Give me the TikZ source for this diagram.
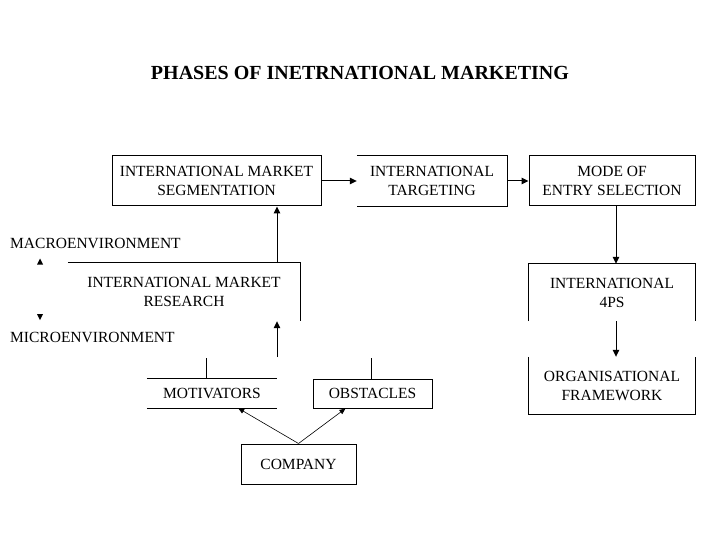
\documentclass[tikz,border=0pt]{standalone}
\usepackage{fontspec}
\setmainfont{Liberation Serif}
\usetikzlibrary{arrows.meta,calc}
\tikzset{
  box/.style={rectangle, inner sep=0pt, align=center, font=\fontsize{15.5}{19}\selectfont},
  framed/.style={box, draw, line width=1pt},
  lbl/.style={inner sep=0pt, anchor=west, font=\fontsize{15.5}{19}\selectfont},
  conn/.style={line width=1pt, -{Triangle[length=7pt,width=6.5pt]}},
  thin conn/.style={line width=0.6pt, -{Triangle[length=6pt,width=5pt]}},
  edge/.style={line width=1pt},
}
\begin{document}
\begin{tikzpicture}[x=1pt,y=-1pt]
\useasboundingbox (0,0) rectangle (720,540);
\fill[white] (0,0) rectangle (720,540);

\node[inner sep=0pt, font=\fontsize{20}{24}\selectfont\bfseries] (title) at (360,73) {PHASES OF INETRNATIONAL MARKETING};

% top row
\node[framed, minimum width=209pt, minimum height=50pt] (b1) at (216.5,181) {INTERNATIONAL MARKET\\SEGMENTATION};
\node[box, minimum width=150pt, minimum height=50pt] (b2) at (432,181) {INTERNATIONAL\\TARGETING};
\draw[edge] (b2.north west) -- (b2.north east) -- (b2.south east) -- (b2.south west);
\node[framed, minimum width=166pt, minimum height=50pt] (b3) at (612,181) {MODE OF\\ENTRY SELECTION};

% right column
\node[box, minimum width=166pt, minimum height=57pt] (b4) at (612,292.5) {INTERNATIONAL\\4PS};
\draw[edge] (b4.south west) -- (b4.north west) -- (b4.north east) -- (b4.south east);
\node[box, minimum width=166pt, minimum height=57pt] (b5) at (612,385.5) {ORGANISATIONAL\\FRAMEWORK};
\draw[edge] (b5.north west) -- (b5.south west) -- (b5.south east) -- (b5.north east);

% research
\node[box, minimum width=232pt, minimum height=58pt] (res) at (184,292) {INTERNATIONAL MARKET\\RESEARCH};
\draw[edge] (res.north west) -- (res.north east) -- (res.south east);

\node[lbl] (macro) at (10,243) {MACROENVIRONMENT};
\node[lbl] (micro) at (10,337) {MICROENVIRONMENT};
\fill (37,264.5) -- (43,264.5) -- (40,258.5) -- cycle;
\fill (37,314) -- (43,314) -- (40,320) -- cycle;

% bottom
\node[box, minimum width=130pt, minimum height=29pt] (mot) at (212,393.5) {MOTIVATORS};
\draw[edge] (mot.north west) -- (mot.north east);
\draw[edge] (mot.south west) -- (mot.south east);
\node[framed, minimum width=119pt, minimum height=29pt] (obs) at (372.5,393.5) {OBSTACLES};
\node[framed, minimum width=115pt, minimum height=40pt] (com) at (298.5,464) {COMPANY};

\coordinate (ra) at (277,263);
\coordinate (mr) at (277,357);
\coordinate (mv) at (206,358);
\coordinate (ov) at (371,358);

% connectors
\draw[conn] (b1.east) -- (b2.west);
\draw[conn] (b2.east) -- (b3.west);
\draw[conn] ([xshift=4pt]b3.south) -- ([xshift=4pt]b4.north);
\draw[conn] ([xshift=4pt]b4.south) -- ([xshift=4pt]b5.north);
\draw[conn] (ra) -- (ra |- b1.south);
\draw[conn] (mr) -- (mr |- res.south);
\draw[edge] (mv) -- (mv |- mot.north);
\draw[edge] (ov) -- (ov |- obs.north);
\draw[thin conn] (com.north) -- ([xshift=-39pt]mot.south east);
\draw[thin conn] (com.north) -- ([xshift=33pt]obs.south west);
\end{tikzpicture}
\end{document}
